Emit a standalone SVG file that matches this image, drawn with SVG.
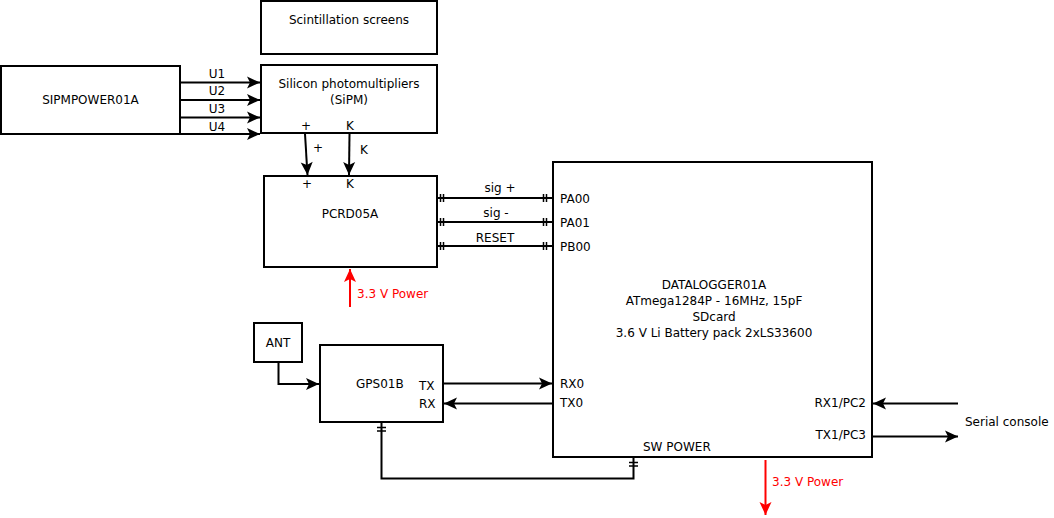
<svg xmlns="http://www.w3.org/2000/svg" width="1054" height="518" viewBox="0 0 1054 518">
<style>
.box{fill:#fff;stroke:#000;stroke-width:2}
.ln{fill:none;stroke:#000;stroke-width:2}
.red{fill:none;stroke:#f00;stroke-width:2}
.tk{stroke:#000;stroke-width:1.5}
text{font-family:"DejaVu Sans",sans-serif;font-size:12px;fill:#000}
.c{text-anchor:middle}
.e{text-anchor:end}
.r{fill:#f00}
</style>
<defs>
<marker id="ah" viewBox="-14 -7 15 14" refX="0" refY="0" markerWidth="15" markerHeight="14" markerUnits="userSpaceOnUse" orient="auto">
<path d="M0,0 L-13,-6 L-10,0 L-13,6 Z" fill="#000"/>
</marker>
<marker id="ahr" viewBox="-14 -7 15 14" refX="0" refY="0" markerWidth="15" markerHeight="14" markerUnits="userSpaceOnUse" orient="auto">
<path d="M0,0 L-13,-6 L-10,0 L-13,6 Z" fill="#f00"/>
</marker>
</defs>
<rect width="1054" height="518" fill="#fff"/>
<g id="connectors">
<path class="ln" d="M180,82.5H260" marker-end="url(#ah)"/>
<path class="ln" d="M180,100H260" marker-end="url(#ah)"/>
<path class="ln" d="M180,117.5H260" marker-end="url(#ah)"/>
<path class="ln" d="M180,134H260" marker-end="url(#ah)"/>
<text x="217" y="78" class="c">U1</text>
<text x="217" y="95" class="c">U2</text>
<text x="217" y="113" class="c">U3</text>
<text x="217" y="131" class="c">U4</text>
<path class="ln" d="M305,134L307.5,175" marker-end="url(#ah)"/>
<path class="ln" d="M349.5,134L349,175" marker-end="url(#ah)"/>
<text x="318" y="152" class="c">+</text>
<text x="364" y="154" class="c">K</text>
<path class="ln" d="M437,198H553"/>
<path class="ln" d="M437,222H553"/>
<path class="ln" d="M437,246H553"/>
<g class="tk">
<path d="M440.5,194V202M443.5,194V202M543.5,194V202M546.5,194V202"/>
<path d="M440.5,218V226M443.5,218V226M543.5,218V226M546.5,218V226"/>
<path d="M440.5,242V250M443.5,242V250M543.5,242V250M546.5,242V250"/>
</g>
<text x="500" y="192" class="c">sig +</text>
<text x="496" y="217" class="c">sig -</text>
<text x="495" y="242" class="c">RESET</text>
<path class="red" d="M350,307V269" marker-end="url(#ahr)"/>
<text x="357" y="298" class="r">3.3 V Power</text>
<path class="ln" d="M278.5,362V384H319" marker-end="url(#ah)"/>
<path class="ln" d="M443,383.5H552" marker-end="url(#ah)"/>
<path class="ln" d="M553,403.5H444" marker-end="url(#ah)"/>
<path class="ln" d="M958,403.5H873" marker-end="url(#ah)"/>
<path class="ln" d="M872,436.5H958" marker-end="url(#ah)"/>
<text x="965" y="426">Serial console</text>
<path class="ln" d="M381.5,422V478.5H633.5V457"/>
<g class="tk">
<path d="M377,427.5H386M377,431H386"/>
<path d="M629,462.5H638M629,466H638"/>
</g>
<path class="red" d="M765.5,460V515" marker-end="url(#ahr)"/>
<text x="772" y="486" class="r">3.3 V Power</text>
</g>
<g id="scint">
<rect class="box" x="261" y="1" width="176" height="53"/>
<text x="349" y="24" class="c">Scintillation screens</text>
</g>
<g id="sipmpower">
<rect class="box" x="1" y="66" width="179" height="68"/>
<text x="90.5" y="104" class="c">SIPMPOWER01A</text>
</g>
<g id="sipm">
<rect class="box" x="261" y="65" width="176" height="68"/>
<text x="349" y="88" class="c">Silicon photomultipliers</text>
<text x="349" y="104" class="c">(SiPM)</text>
<text x="306" y="130" class="c">+</text>
<text x="350" y="130" class="c">K</text>
</g>
<g id="pcrd">
<rect class="box" x="264" y="176" width="173" height="91"/>
<text x="307" y="188" class="c">+</text>
<text x="350" y="188" class="c">K</text>
<text x="350" y="218" class="c">PCRD05A</text>
</g>
<g id="datalogger">
<rect class="box" x="553" y="162" width="319" height="295"/>
<text x="714" y="289" class="c">DATALOGGER01A</text>
<text x="714" y="305" class="c">ATmega1284P - 16MHz, 15pF</text>
<text x="714" y="321" class="c">SDcard</text>
<text x="714" y="337" class="c">3.6 V Li Battery pack 2xLS33600</text>
<text x="560" y="203">PA00</text>
<text x="560" y="227">PA01</text>
<text x="560" y="251">PB00</text>
<text x="560" y="388">RX0</text>
<text x="560" y="407">TX0</text>
<text x="866" y="407" class="e">RX1/PC2</text>
<text x="866" y="439" class="e">TX1/PC3</text>
<text x="643" y="451">SW POWER</text>
</g>
<g id="ant">
<rect class="box" x="254" y="323" width="48" height="39"/>
<text x="278" y="347" class="c">ANT</text>
</g>
<g id="gps">
<rect class="box" x="320" y="345" width="123" height="77"/>
<text x="356" y="388">GPS01B</text>
<text x="419" y="390">TX</text>
<text x="419" y="408">RX</text>
</g>
</svg>
